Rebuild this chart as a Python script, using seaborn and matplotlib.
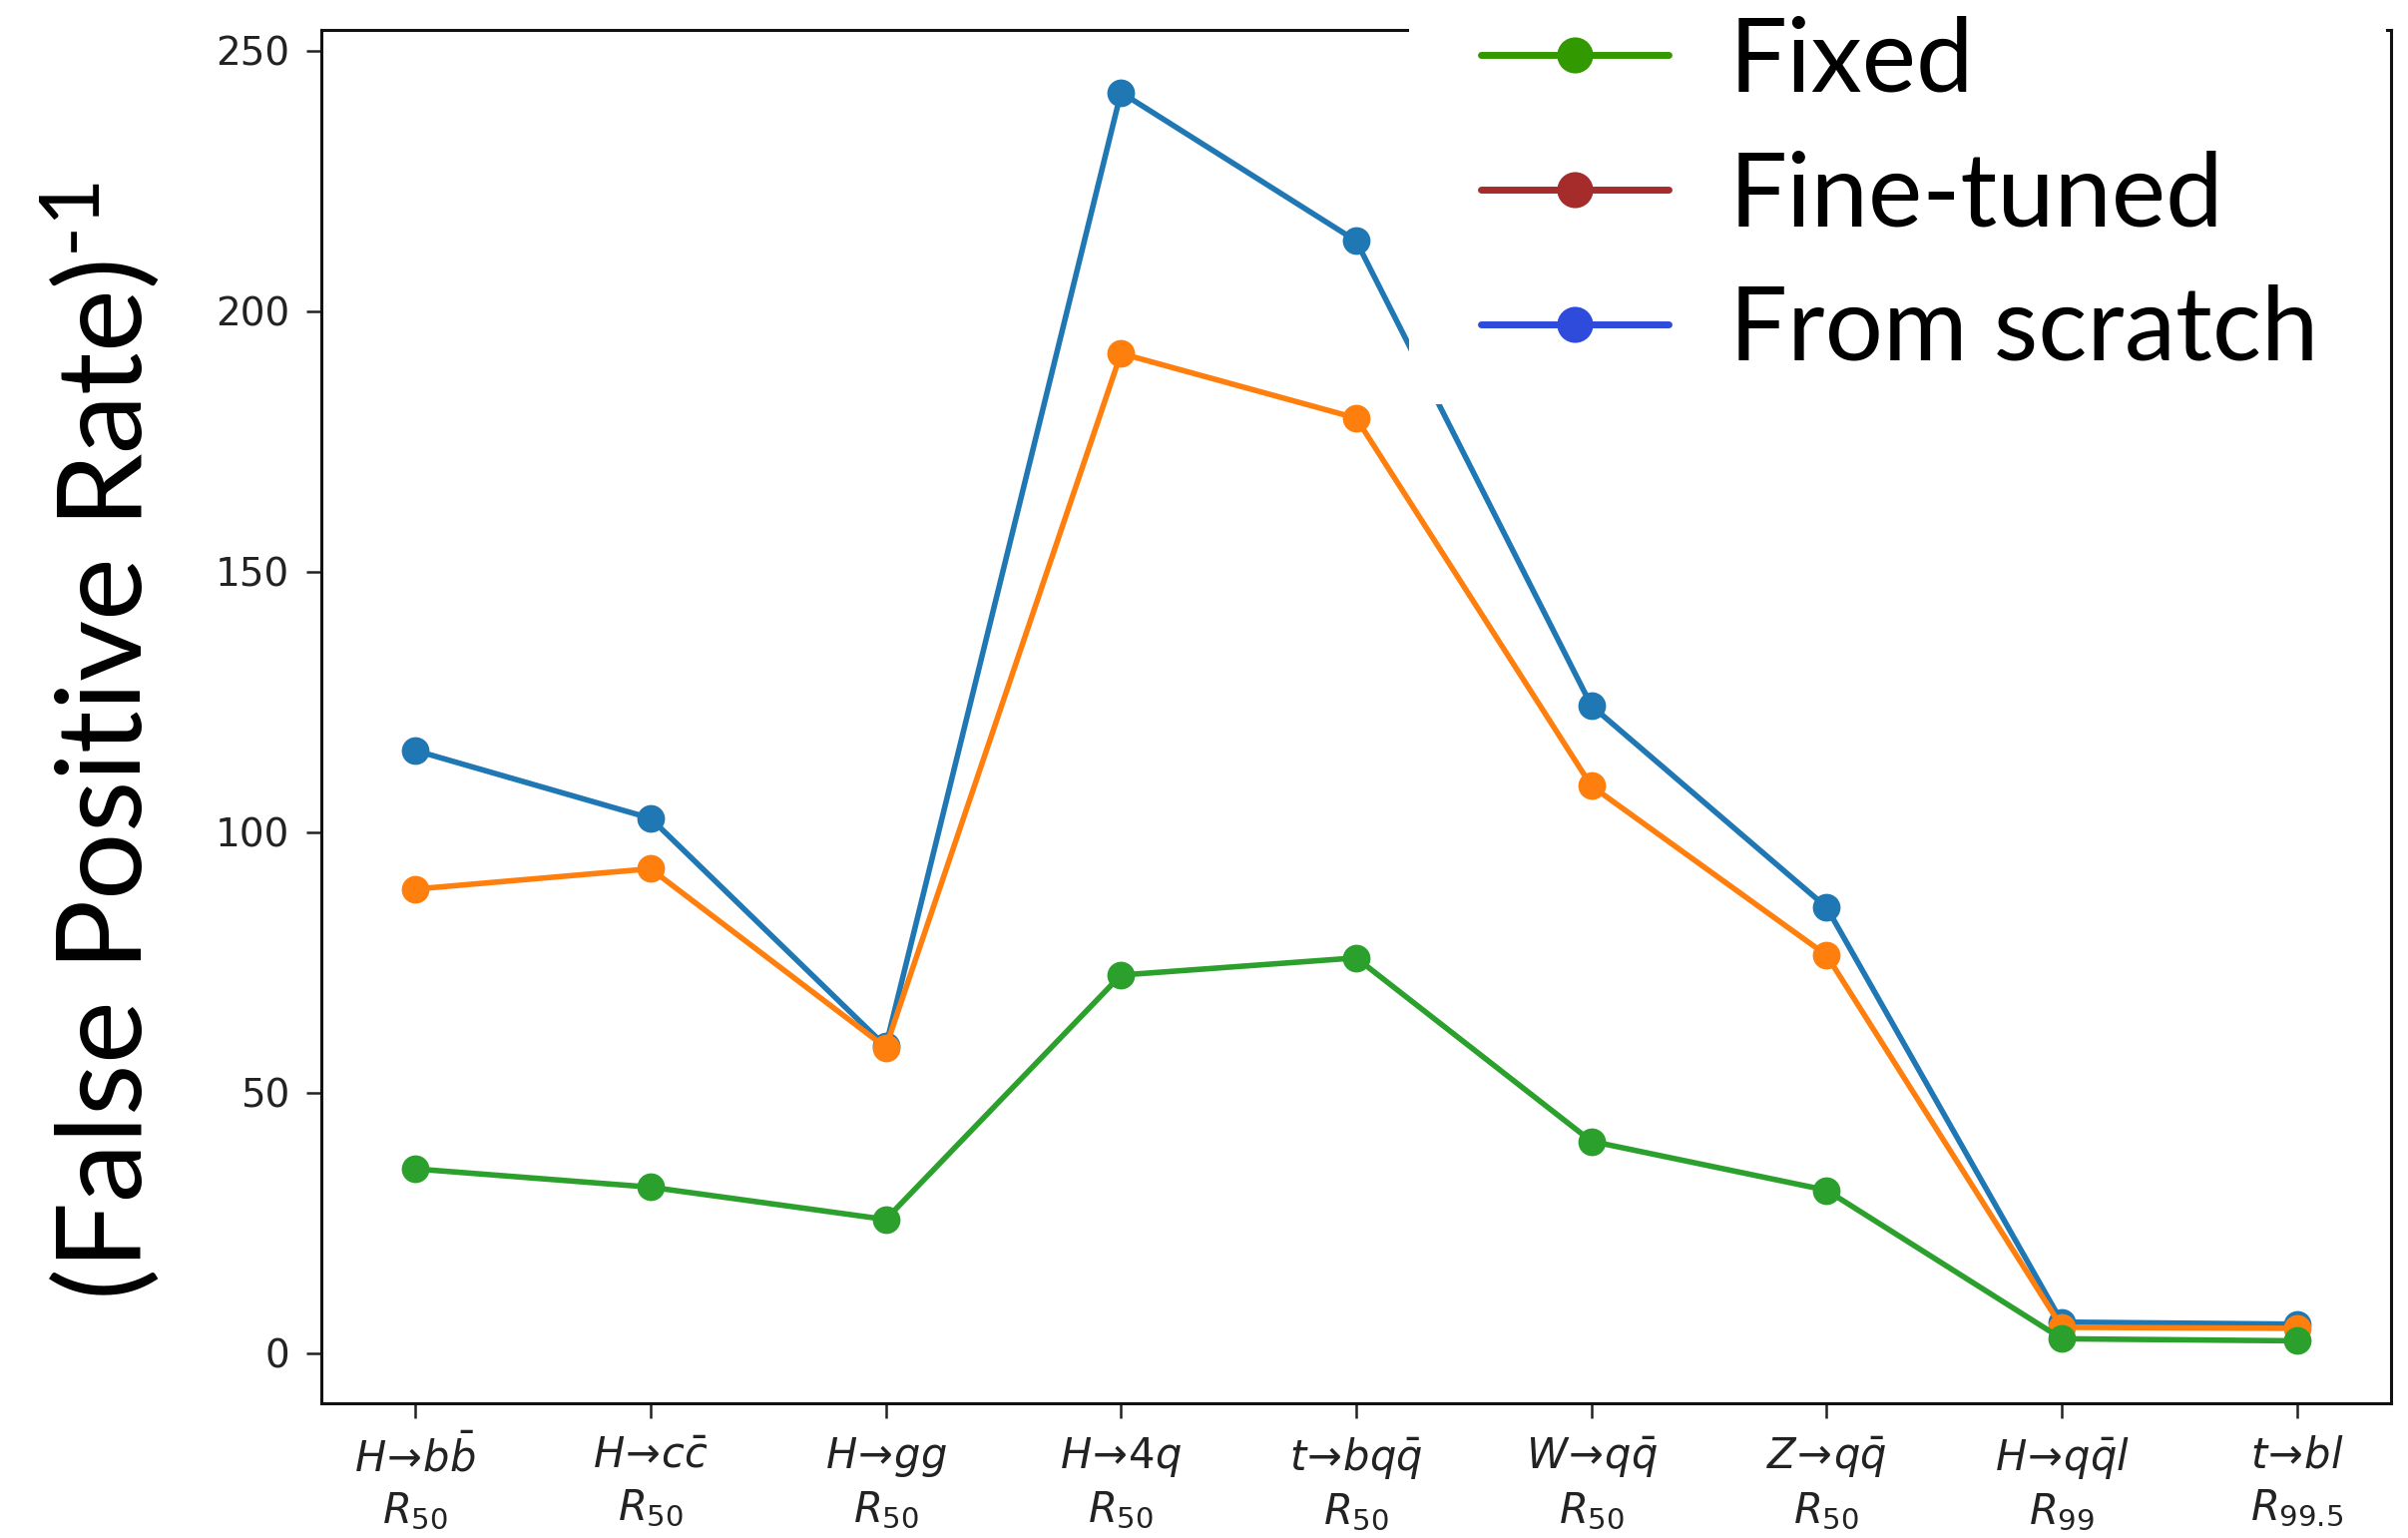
import pandas as pd
import matplotlib
matplotlib.use("Agg")
import matplotlib.pyplot as plt
from matplotlib.lines import Line2D
from matplotlib.patches import Rectangle
import seaborn as sns

# данные
categories = [
    r"$H\!\rightarrow\! b\bar{b}$" + "\n" + r"$R_{50}$",
    r"$H\!\rightarrow\! c\bar{c}$" + "\n" + r"$R_{50}$",
    r"$H\!\rightarrow\! gg$" + "\n" + r"$R_{50}$",
    r"$H\!\rightarrow\! 4q$" + "\n" + r"$R_{50}$",
    r"$t\!\rightarrow\! bq\bar{q}$" + "\n" + r"$R_{50}$",
    r"$W\!\rightarrow\! q\bar{q}$" + "\n" + r"$R_{50}$",
    r"$Z\!\rightarrow\! q\bar{q}$" + "\n" + r"$R_{50}$",
    r"$H\!\rightarrow\! q\bar{q}l$" + "\n" + r"$R_{99}$",
    r"$t\!\rightarrow\! bl$" + "\n" + r"$R_{99.5}$",
]
from_scratch = [115.7, 102.7, 58.9, 242.0, 213.5, 124.3, 85.6, 6.0, 5.6]
fine_tuned = [89.1, 93.0, 58.7, 191.9, 179.5, 108.9, 76.4, 5.0, 4.8]
fixed = [35.4, 31.9, 25.7, 72.6, 75.9, 40.7, 31.3, 2.8, 2.4]

series_names = ["From scratch", "Fine-tuned", "Fixed"]
line_colors = {"From scratch": "#1f77b4", "Fine-tuned": "#ff7f0e", "Fixed": "#2ca02c"}
legend_names = ["Fixed", "Fine-tuned", "From scratch"]
legend_colors = ["#339900", "#a62b2b", "#2e4bdc"]

df = pd.concat([
    pd.DataFrame({"category": categories, "value": vals, "model": name})
    for name, vals in zip(series_names, [from_scratch, fine_tuned, fixed])
], ignore_index=True)

sns.set_style("ticks")
plt.rcParams["font.family"] = ["DejaVu Sans"]
plt.rcParams["mathtext.fontset"] = "dejavusans"
plt.rcParams["mathtext.rm"] = "Lato"
plt.rcParams["mathtext.it"] = "Lato:italic"
plt.rcParams["mathtext.bf"] = "Lato:bold"

fig = plt.figure(figsize=(24.13, 15.41), dpi=100)
ax = fig.add_subplot(111)
fig.subplots_adjust(left=0.1334, right=0.993, bottom=0.0876, top=0.9805)

sns.lineplot(data=df, x="category", y="value", hue="model", hue_order=series_names,
             palette=line_colors, marker="o", markersize=20, markeredgewidth=0,
             linewidth=4, sort=False, legend=False, errorbar=None, ax=ax)

ax.set_xlabel("")
ax.set_ylabel(r"(False Positive Rate)$^{\text{-1}}$", fontsize=85.5, family="Lato",
              math_fontfamily="custom", color="black")
ax.yaxis.set_label_coords(-0.077, 0.482)
ax.set_yticks([0, 50, 100, 150, 200, 250])
ax.tick_params(axis="both", labelsize=28, length=11, width=1.8, pad=12,
               colors="#222222", labelcolor="#222222")
ax.tick_params(axis="x", labelsize=30)
for lab in ax.get_xticklabels():
    lab.set_linespacing(1.3)
for sp in ax.spines.values():
    sp.set_linewidth(2.2)
    sp.set_color("#111111")

# белая подложка под легендой
fig.patches.append(Rectangle((0.5852, 0.7372), 0.4057, 0.2628, transform=fig.transFigure,
                             facecolor="white", edgecolor="none", zorder=3))

handles = [Line2D([0], [0], color=c, lw=5, marker="o", markersize=26, markeredgewidth=0)
           for c in legend_colors]
fig.legend(handles, legend_names, loc="upper left", bbox_to_anchor=(1484 / 2413, 0.99),
           frameon=False, borderpad=0, borderaxespad=0, handlelength=1.83,
           handletextpad=0.59, labelspacing=0.395, labelcolor="black",
           prop={"family": "Lato", "size": 74})

plt.savefig("out.png", dpi=100)
plt.close()
